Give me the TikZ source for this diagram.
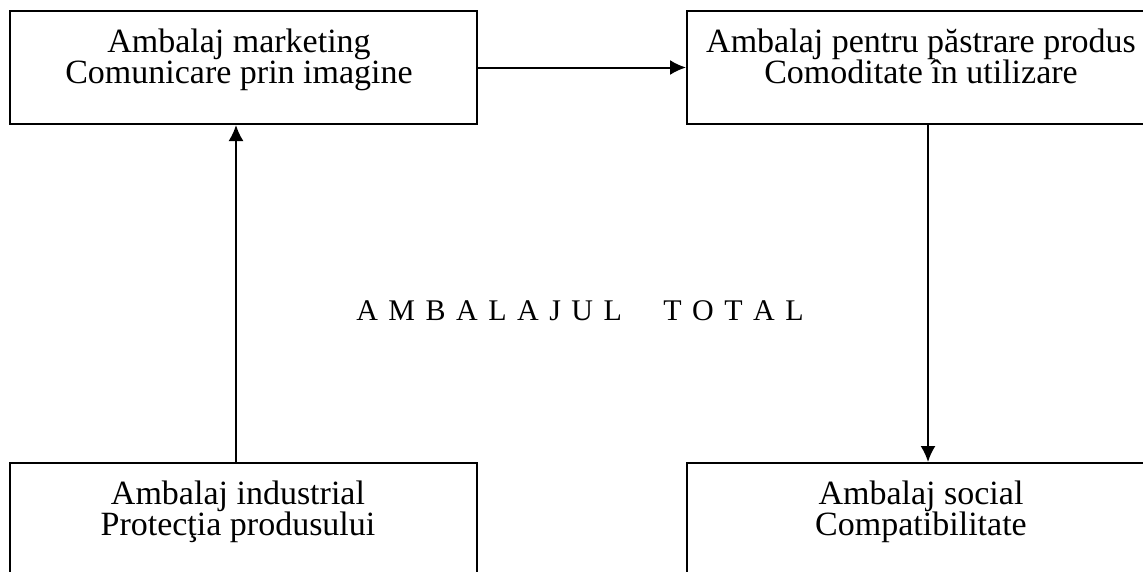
\documentclass[tikz,border=0pt]{standalone}
\usepackage{fontspec}
\setmainfont{Liberation Serif}
\usetikzlibrary{arrows.meta,positioning}

\begin{document}
\begin{tikzpicture}[x=1pt,y=-1pt,
  box/.style={draw,line width=2pt,inner sep=0pt,minimum height=113pt},
  lbl/.style={font=\fontsize{34}{31}\selectfont,align=center,inner sep=0pt,anchor=north},
  tip/.style={-{Latex[length=16pt,width=15pt]}}]
  \useasboundingbox (0,0) rectangle (1143,571);
  \clip (0,0) rectangle (1143,571);
  % the four frames
  \node[box,minimum width=467pt] (mkt) at (243.5,67.5) {};
  \node[box,minimum width=473pt] (pst) at (923.5,67.5) {};
  \node[box,minimum width=467pt] (ind) at (243.5,519.5) {};
  \node[box,minimum width=473pt] (soc) at (923.5,519.5) {};
  % their texts
  \node[lbl] (mkttxt) at (239,28.8) {Ambalaj marketing\\Comunicare prin imagine};
  \node[lbl] (psttxt) at (921,28.8) {Ambalaj pentru păstrare produs\\Comoditate în utilizare};
  \node[lbl] (indtxt) at (238,480.8) {Ambalaj industrial\\Protecţia produsului};
  \node[lbl] (soctxt) at (921,480.8) {Ambalaj social\\Compatibilitate};
  \node[font=\fontsize{30}{36}\selectfont,inner sep=0pt,anchor=base] (total) at (580,320)
    {\spaceskip=10.5pt A M B A L A J U L\hspace{31pt} T O T A L};
  \path[draw,line width=2pt]
    ([xshift=-7.5pt]ind.north) edge[tip] ([xshift=-7.5pt]mkt.south)
    (mkt.east) edge[tip] (pst.west)
    ([xshift=4.5pt]pst.south) edge[tip] ([xshift=4.5pt]soc.north);
\end{tikzpicture}
\end{document}
